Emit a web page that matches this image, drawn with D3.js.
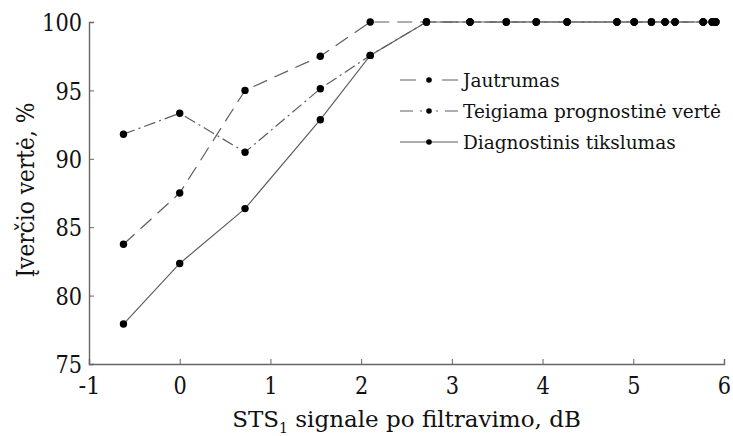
<!DOCTYPE html>
<html>
<head>
<meta charset="utf-8">
<script src="https://cdn.jsdelivr.net/npm/d3@7"></script>
<style>
  html, body { margin: 0; padding: 0; background: #fff; }
</style>
</head>
<body>
<svg id="chart" width="733" height="436"></svg>
<script>
// Signal-to-noise ratio after filtering, dB
const snr = [-0.62, 0.0, 0.72, 1.55, 2.1, 2.72, 3.2, 3.6, 3.93, 4.27, 4.82, 5.01, 5.2, 5.35, 5.46, 5.77, 5.87, 5.91];
// Indicator values, %
const jautrumas = [83.75, 87.5, 95.0, 97.5, 100, 100, 100, 100, 100, 100, 100, 100, 100, 100, 100, 100, 100, 100];
const teigiama = [91.8, 93.33, 90.48, 95.12, 97.56, 100, 100, 100, 100, 100, 100, 100, 100, 100, 100, 100, 100, 100];
const diagnostinis = [77.92, 82.35, 86.36, 92.86, 97.56, 100, 100, 100, 100, 100, 100, 100, 100, 100, 100, 100, 100, 100];

const xTicks = [-1, 0, 1, 2, 3, 4, 5, 6];
const yTicks = [75, 80, 85, 90, 95, 100];
const seriesNames = ["Jautrumas", "Teigiama prognostinė vertė", "Diagnostinis tikslumas"];

const FONT = "DejaVu Serif";
const INK = "#111";

const svg = d3.select("#chart");
const x = d3.scaleLinear().domain([-1, 6]).range([89, 724]);
const y = d3.scaleLinear().domain([75, 100]).range([364, 22]);

const axisColor = "#666";
const plainInt = d => String(d);   // hyphen-minus, as in "-1"

// Narrow the wide serif digits to a Times-like set width
const digitW = 13.3, hyphenW = 8.9;
const labelWidth = s => [...s].reduce((w, c) => w + (c === "-" ? hyphenW : digitW), 0);

// Axes: ticks point inward
const gx = svg.append("g").attr("transform", `translate(0,${y(75)})`)
  .call(d3.axisBottom(x).tickValues(xTicks).tickSize(-5).tickPadding(13).tickFormat(plainInt));
const gy = svg.append("g").attr("transform", `translate(${x(-1)},0)`)
  .call(d3.axisLeft(y).tickValues(yTicks).tickSize(-5).tickPadding(7).tickFormat(plainInt));

[gx, gy].forEach(g => {
  g.attr("font-family", FONT).attr("font-size", 24);
  g.select(".domain").attr("stroke", axisColor).attr("stroke-width", 1.4);
  g.selectAll(".tick line").attr("stroke", axisColor).attr("stroke-width", 1);
  g.selectAll(".tick text")
    .attr("font-family", FONT).attr("font-size", 24).attr("fill", INK)
    .attr("textLength", d => labelWidth(plainInt(d)))
    .attr("lengthAdjust", "spacingAndGlyphs");
});
gx.selectAll(".tick text").attr("dy", "0.71em");
gy.selectAll(".tick text").attr("dy", "0.36em");

// Axis titles
const xt = svg.append("text")
  .attr("x", (x(-1) + x(6)) / 2).attr("y", 427)
  .attr("text-anchor", "middle")
  .attr("font-family", FONT).attr("font-size", 23).attr("fill", INK);
xt.append("tspan").text("STS");
xt.append("tspan").attr("dy", 6).attr("font-size", 14).text("1");
xt.append("tspan").attr("dy", -6).text(" signale po filtravimo, dB");

svg.append("text")
  .attr("transform", `translate(34,${(y(75) + y(100)) / 2 - 3}) rotate(-90)`)
  .attr("text-anchor", "middle")
  .attr("font-family", FONT).attr("font-size", 24).attr("fill", INK)
  .attr("textLength", 175).attr("lengthAdjust", "spacingAndGlyphs")
  .text("Įverčio vertė, %");

// Series
const styles = [
  { values: jautrumas, dash: "15,8", legendDash: "16,26,16" },
  { values: teigiama, dash: "12,4,2,4", legendDash: "13,7,2,14,2,7,13" },
  { values: diagnostinis, dash: null, legendDash: null }
];

const line = d3.line().x(d => x(d[0])).y(d => y(d[1]));
const lineColor = "#5f5f5f";

styles.forEach(s => {
  const pts = snr.map((v, i) => [v, s.values[i]]);
  svg.append("path").datum(pts)
    .attr("d", line)
    .attr("fill", "none")
    .attr("stroke", lineColor)
    .attr("stroke-width", 1.2)
    .attr("stroke-dasharray", s.dash);
  svg.append("g").selectAll("circle").data(pts).join("circle")
    .attr("cx", d => x(d[0])).attr("cy", d => y(d[1]))
    .attr("r", 3.7).attr("fill", "#000");
});

// Legend
const legend = svg.append("g");
const legendY = [80, 111, 142];
styles.forEach((s, i) => {
  const ly = legendY[i];
  legend.append("line")
    .attr("x1", 400).attr("x2", 458).attr("y1", ly).attr("y2", ly)
    .attr("stroke", lineColor).attr("stroke-width", 1.2)
    .attr("stroke-dasharray", s.legendDash);
  legend.append("circle").attr("cx", 429).attr("cy", ly).attr("r", 2.8).attr("fill", "#000");
  legend.append("text").attr("x", 463).attr("y", ly).attr("dy", "0.36em")
    .attr("font-family", FONT).attr("font-size", 18.5).attr("fill", INK)
    .text(seriesNames[i]);
});
</script>
</body>
</html>
